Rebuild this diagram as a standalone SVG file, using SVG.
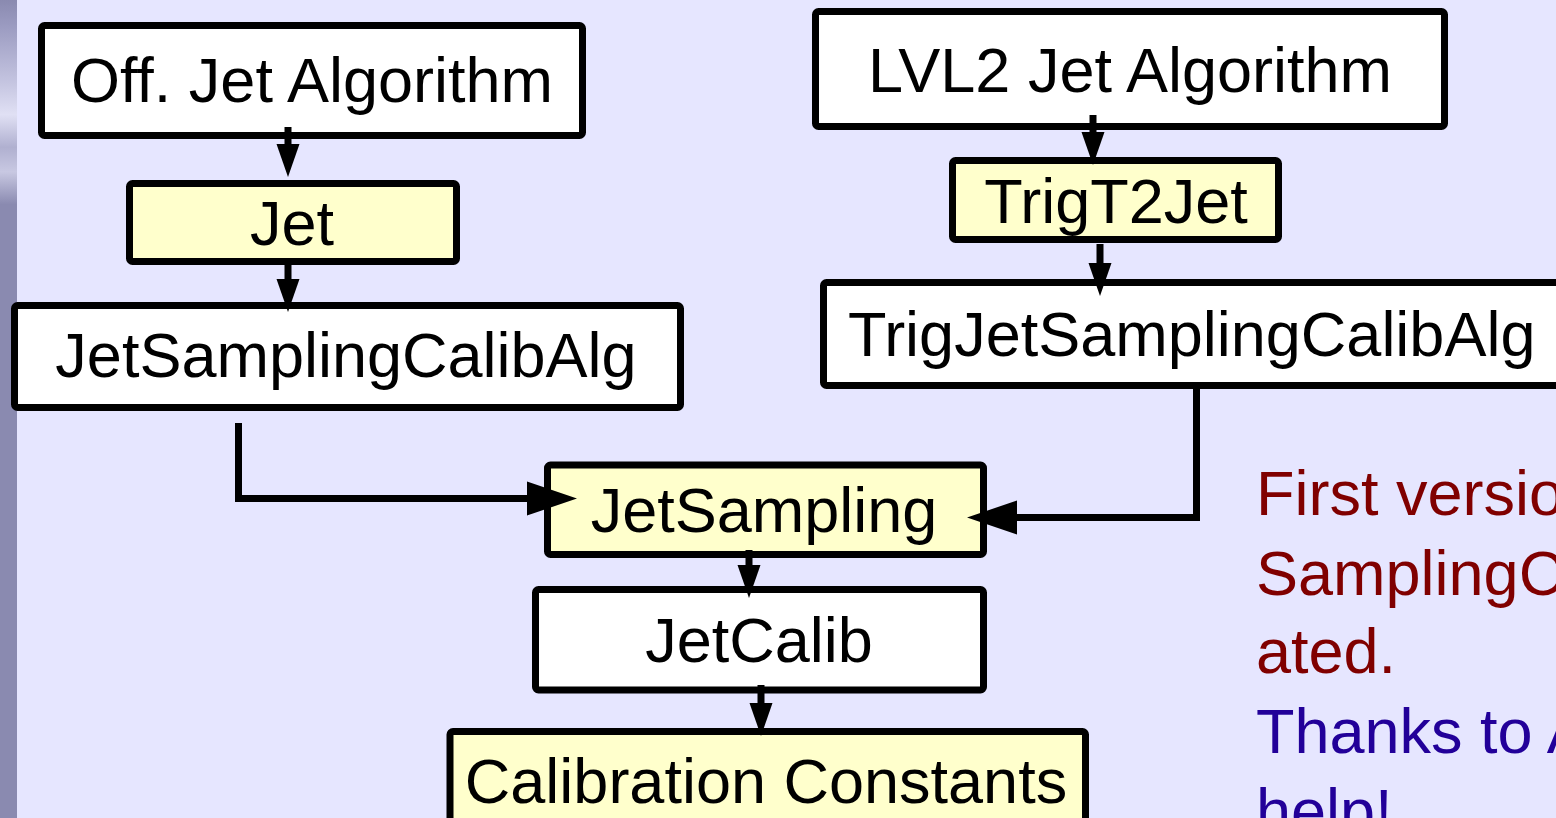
<svg xmlns="http://www.w3.org/2000/svg" width="1556" height="818" viewBox="0 0 1556 818">
<defs>
<linearGradient id="strip" x1="0" y1="0" x2="0" y2="1" gradientUnits="objectBoundingBox">
<stop offset="0" stop-color="#8a8ab0"/>
<stop offset="0.03" stop-color="#9a9ac0"/>
<stop offset="0.1" stop-color="#c4c4e0"/>
<stop offset="0.14" stop-color="#e0e0f4"/>
<stop offset="0.18" stop-color="#b0b0d0"/>
<stop offset="0.21" stop-color="#c8c8e2"/>
<stop offset="0.25" stop-color="#8a8ab0"/>
<stop offset="1" stop-color="#8a8ab0"/>
</linearGradient>
<marker id="ah" markerUnits="userSpaceOnUse" markerWidth="34" markerHeight="23" refX="0" refY="11.5" orient="auto" overflow="visible">
<path d="M0,0 L33,11.5 L0,23 Z" fill="#000"/>
</marker>
<marker id="ahBig" markerUnits="userSpaceOnUse" markerWidth="50" markerHeight="34" refX="0" refY="17" orient="auto" overflow="visible">
<path d="M0,0 L50,17 L0,34 Z" fill="#000"/>
</marker>
</defs>
<style>
.box{stroke:#000;stroke-width:7;}
.w{fill:#ffffff;}
.y{fill:#ffffcc;}
.t{font-family:"Liberation Sans",Arial,Helvetica,sans-serif;font-size:63px;fill:#000;text-anchor:middle;}
.c{fill:none;stroke:#000;stroke-width:7;stroke-linejoin:miter;}
.note{font-family:"Liberation Sans",Arial,Helvetica,sans-serif;font-size:63px;}
.red{fill:#800000;}
.blue{fill:#220099;}
</style>
<rect x="0" y="0" width="1556" height="818" fill="#e6e6ff"/>
<rect x="0" y="0" width="17" height="818" fill="url(#strip)"/>

<g id="off-jet-algorithm">
<rect class="box w" x="41.5" y="25.5" width="541" height="110" rx="3"/>
<text class="t" x="312" y="102">Off. Jet Algorithm</text>
</g>
<g id="jet">
<rect class="box y" x="129.5" y="183.5" width="327" height="78" rx="3"/>
<text class="t" x="292" y="245">Jet</text>
</g>
<g id="jet-sampling-calib-alg">
<rect class="box w" x="14.5" y="305.5" width="666" height="102" rx="3"/>
<text class="t" x="346" y="377">JetSamplingCalibAlg</text>
</g>
<g id="lvl2-jet-algorithm">
<rect class="box w" x="815.5" y="11.5" width="629" height="115" rx="3"/>
<text class="t" x="1130" y="92">LVL2 Jet Algorithm</text>
</g>
<g id="trigt2jet">
<rect class="box y" x="952.5" y="160.5" width="326" height="79" rx="3"/>
<text class="t" x="1116" y="223">TrigT2Jet</text>
</g>
<g id="trig-jet-sampling-calib-alg">
<rect class="box w" x="823.5" y="282.5" width="800" height="103" rx="3"/>
<text class="t" x="848" y="356" style="text-anchor:start">TrigJetSamplingCalibAlg</text>
</g>
<g id="jet-sampling">
<rect class="box y" x="547.5" y="465" width="436" height="89.5" rx="3"/>
<text class="t" x="764" y="532">JetSampling</text>
</g>
<g id="jet-calib">
<rect class="box w" x="535.5" y="589.5" width="448" height="100.5" rx="3"/>
<text class="t" x="759" y="662">JetCalib</text>
</g>
<g id="calibration-constants">
<rect class="box y" x="450" y="731.5" width="635.5" height="120" rx="3"/>
<text class="t" x="766" y="803">Calibration Constants</text>
</g>

<g id="connectors">
<path class="c" d="M288,127 V144" marker-end="url(#ah)"/>
<path class="c" d="M288,262 V279" marker-end="url(#ah)"/>
<path class="c" d="M1093,115 V132" marker-end="url(#ah)"/>
<path class="c" d="M1100,244 V263" marker-end="url(#ah)"/>
<path class="c" d="M238.5,423 V498.5 H527" marker-end="url(#ahBig)"/>
<path class="c" d="M1196.5,386 V517.5 H1017" marker-end="url(#ahBig)"/>
<path class="c" d="M749,550 V565" marker-end="url(#ah)"/>
<path class="c" d="M761,685 V703" marker-end="url(#ah)"/>
</g>

<g id="note">
<text class="note red" x="1256" y="515">First version</text>
<text class="note red" x="1256" y="595">SamplingC</text>
<text class="note red" x="1256" y="673">ated.</text>
<text class="note blue" x="1256" y="753">Thanks to A</text>
<text class="note blue" x="1256" y="833">help!</text>
</g>
</svg>
